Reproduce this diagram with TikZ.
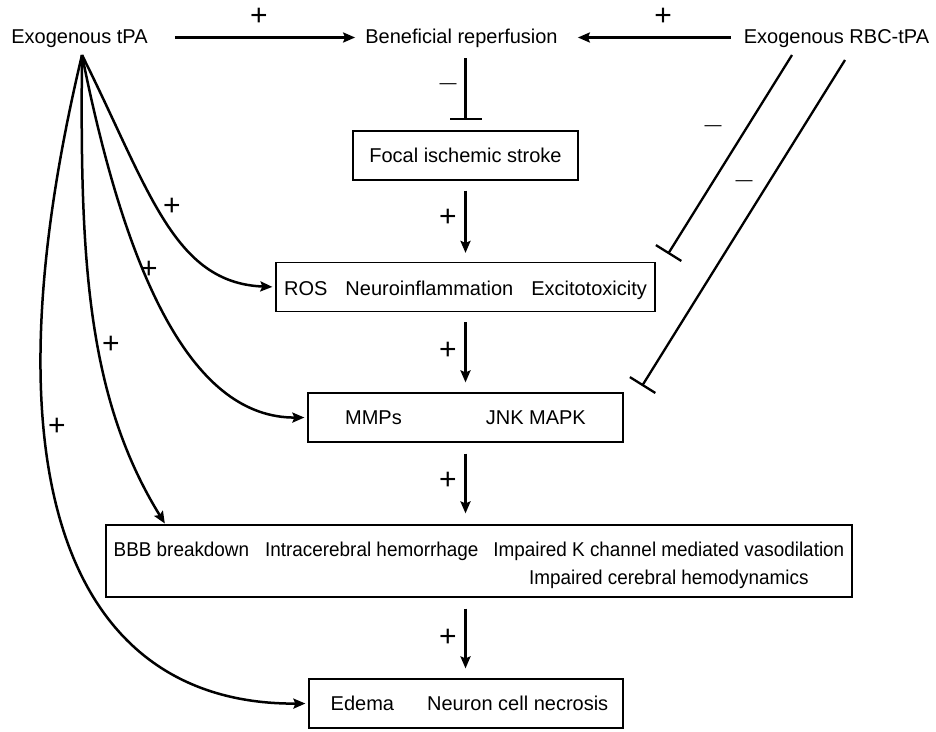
\documentclass[tikz,border=0pt]{standalone}
\usepackage{fontspec}
\setmainfont{Liberation Sans}
\newfontfamily\condfont[FakeStretch=0.945]{Liberation Sans}
\usetikzlibrary{arrows.meta}
\begin{document}
\begin{tikzpicture}[x=1pt,y=-1pt,
  lbl/.style={inner sep=0pt, font=\fontsize{20}{24}\selectfont, text height=14.3pt, text depth=0pt},
  box/.style={draw, line width=1.2pt, inner sep=0pt, font=\fontsize{20}{24}\selectfont, text height=14.3pt, text depth=0pt, minimum height=49pt},
  plus/.style={inner sep=0pt, font=\fontsize{30}{34}\selectfont},
  minus/.style={inner sep=0pt, font=\fontsize{17}{20}\selectfont},
  act/.style={line width=2.5pt, -{Stealth[length=12pt,width=10pt,inset=2pt]}},
  inh/.style={line width=2.3pt, -{Bar[width=30pt]}},
]
\useasboundingbox (0,0) rectangle (936,731);

% top labels
\node[lbl] (tpa) at (79.5,36) {Exogenous tPA};
\node[lbl] (ben) at (461.5,36) {Beneficial reperfusion};
\node[lbl] (rbc) at (836.5,36) {Exogenous RBC-tPA};

% boxes
\node[box, minimum width=225pt] (focal) at (465.5,155.5) {Focal ischemic stroke};
\node[box, minimum width=379pt, text height=17.4pt] (ros) at (465.5,287) {ROS\hspace{18pt}Neuroinflammation\hspace{18pt}Excitotoxicity};
\node[box, minimum width=315pt] (mmp) at (465.5,417.5) {MMPs\hspace{84pt}JNK MAPK};
\node[box, minimum width=746pt, minimum height=72pt, text height=14.3pt, text depth=24.3pt,
      font=\condfont\fontsize{20}{28}\selectfont] (bbb) at (479,561)
  {BBB breakdown\hspace{16pt}Intracerebral hemorrhage\hspace{15pt}\begin{tabular}[t]{@{}c@{}}Impaired K channel mediated vasodilation\\Impaired cerebral hemodynamics\end{tabular}};
\node[box, minimum width=314pt] (edema) at (466,703.5) {\hspace*{7pt}Edema\hspace{33pt}Neuron cell necrosis};

% coordinates
\coordinate (apex) at (82,55);
\coordinate (r1s) at (792,55);
\coordinate (r1e) at (668,254);
\coordinate (r2s) at (845,60);
\coordinate (r2e) at (642,386);

% top arrows
\draw[act, shorten <=27pt, shorten >=10pt] ([yshift=-1.5pt]tpa.east) -- ([yshift=-1.5pt]ben.west);
\draw[act, shorten <=13pt, shorten >=20pt] ([yshift=-1.5pt]rbc.west) -- ([yshift=-1.5pt]ben.east);
\node[plus] (p1) at (259,17) {+};
\node[plus] (p2) at (663,17) {+};

% beneficial -| focal
\draw[line width=2.4pt, -{Bar[width=32pt]}, shorten <=15pt, shorten >=10pt] (focal.north |- ben.south) -- (focal.north);
\node[minus] (m1) at (448,86) {—};

% vertical chain
\draw[act, shorten <=10pt, shorten >=9pt] (focal.south) -- (ros.north);
\node[plus] (p3) at (448,218) {+};
\draw[act, shorten <=10pt, shorten >=10pt] (ros.south) -- (mmp.north);
\node[plus] (p4) at (448,351) {+};
\draw[act, shorten <=11pt, shorten >=11pt] (mmp.south) -- (mmp.south |- bbb.north);
\node[plus] (p5) at (448,481) {+};
\draw[act, shorten <=11pt, shorten >=10pt] (bbb.south -| mmp.south) -- (edema.north -| mmp.south);
\node[plus] (p6) at (448,638) {+};

% RBC inhibitions
\draw[inh] (r1s) -- (r1e);
\node[minus] (m2) at (713,128) {—};
\draw[inh] (r2s) -- (r2e);
\node[minus] (m3) at (744,183) {—};

% tPA curves
\draw[act, shorten >=3pt] (apex) .. controls (149,189) and (173,283) .. (ros.west);
\node[plus] (p7) at (172,207) {+};
\draw[act, shorten >=3pt] (apex) .. controls (128,285) and (195,418) .. (mmp.west);
\node[plus] (p8) at (149,270) {+};
\draw[act, shorten >=1pt] (apex) .. controls (80,255) and (86,396) .. ([xshift=60pt]bbb.north west);
\node[plus] (p9) at (111,345) {+};
\draw[act, shorten >=3pt] (apex) .. controls (-24,500) and (82,705) .. (edema.west);
\node[plus] (p10) at (57,427) {+};
\end{tikzpicture}
\end{document}
